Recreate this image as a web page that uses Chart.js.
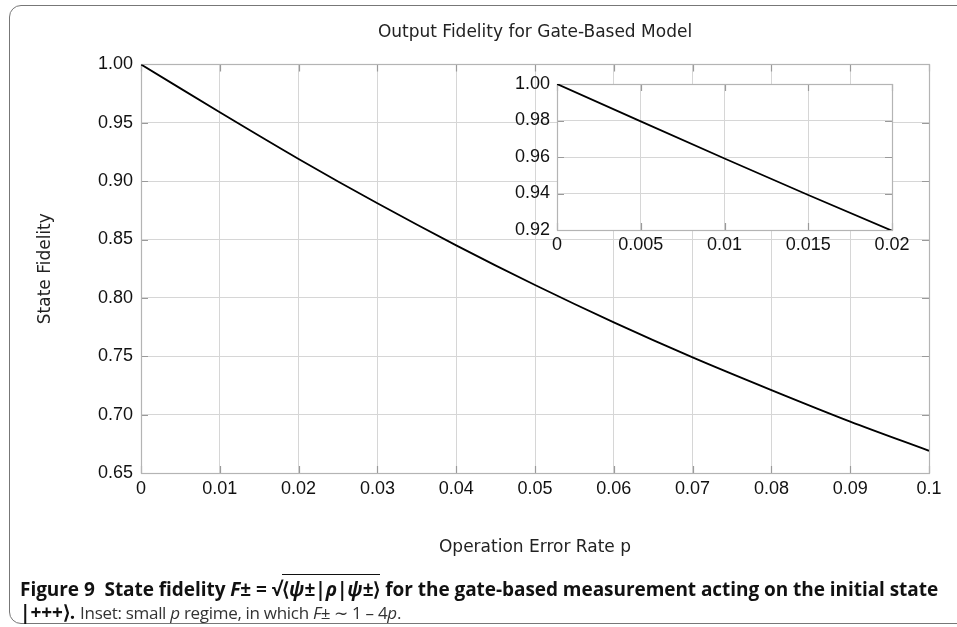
<!DOCTYPE html>
<html><head><meta charset="utf-8">
<script src="https://cdn.jsdelivr.net/npm/chart.js@4.4.1/dist/chart.umd.min.js"></script>
<style>
html,body{margin:0;padding:0;background:#fff;}
body{width:957px;height:627px;position:relative;overflow:hidden;}
#frame{position:absolute;left:9px;top:5px;width:990px;height:619px;border:1.5px solid #777;border-radius:12px;box-sizing:border-box;}
#main{position:absolute;left:0;top:0;}
#inset{position:absolute;left:480px;top:66px;}
#caption{position:absolute;left:20px;top:578px;font-family:"Open Sans",Lato,sans-serif;font-size:19px;line-height:23px;color:#111;white-space:nowrap;letter-spacing:-0.05px;}
#caption b{font-weight:700;}
#caption .reg{font-weight:normal;color:#333;font-size:17px;letter-spacing:-0.3px;}
#caption .ov{border-top:1.5px solid #111;padding-top:1px;}
</style></head>
<body>
<div id="frame"></div>
<canvas id="main" width="957" height="627"></canvas>
<canvas id="inset" width="440" height="200"></canvas>
<div id="caption"><b>Figure 9&nbsp; State fidelity <i>F</i>± = √<span class="ov">⟨<i>ψ</i>±|<i>ρ</i>|<i>ψ</i>±⟩</span> for the gate-based measurement acting on the initial state</b><br><b>|+++⟩.</b> <span class="reg">Inset: small <i>p</i> regime, in which <i>F</i>± ∼ 1 – 4<i>p</i>.</span></div>
<script>
// ---- data ----
const pValues = [0, 0.01, 0.02, 0.03, 0.04, 0.05, 0.06, 0.07, 0.08, 0.09, 0.10];
const fidelity = [1.000, 0.959, 0.919, 0.881, 0.845, 0.811, 0.779, 0.749, 0.721, 0.694, 0.669];
const xTickLabels = ['0','0.01','0.02','0.03','0.04','0.05','0.06','0.07','0.08','0.09','0.1'];
const yTickLabels = ['0.65','0.70','0.75','0.80','0.85','0.90','0.95','1.00'];

const insetP = [0, 0.005, 0.010, 0.015, 0.020];
const insetF = [1.000, 0.9795, 0.9592, 0.9392, 0.9196];
const insetXTickLabels = ['0','0.005','0.01','0.015','0.02'];
const insetYTickLabels = ['0.92','0.94','0.96','0.98','1.00'];

const TICK_FONT = {family:'"Liberation Sans", Arial, sans-serif', size:18};
const TITLE_FONT = {family:'"DejaVu Sans", sans-serif', size:17, weight:'normal', lineHeight:1.2};
const GRID = '#d6d6d6';

const frameTicks = {
  id:'frameTicks',
  beforeDraw(chart, args, opts){
    if(!opts.fill) return;
    const a = chart.chartArea, c = chart.ctx;
    c.save(); c.fillStyle = '#fff'; c.fillRect(a.left, a.top, a.right-a.left, a.bottom-a.top); c.restore();
  },
  beforeDatasetsDraw(chart){
    const a = chart.chartArea, c = chart.ctx, xs = chart.scales.x, ys = chart.scales.y, L = 7;
    c.save();
    c.strokeStyle = '#9a9a9a'; c.lineWidth = 1.2;
    c.beginPath();
    xs.ticks.forEach(t => { const x = Math.round(xs.getPixelForValue(t.value))+0.5;
      c.moveTo(x, a.bottom); c.lineTo(x, a.bottom-L); c.moveTo(x, a.top); c.lineTo(x, a.top+L); });
    ys.ticks.forEach(t => { const y = Math.round(ys.getPixelForValue(t.value))+0.5;
      c.moveTo(a.left, y); c.lineTo(a.left+L, y); c.moveTo(a.right, y); c.lineTo(a.right-L, y); });
    c.stroke();
    c.strokeStyle = '#b4b4b4'; c.lineWidth = 1.2;
    c.strokeRect(Math.round(a.left)+0.5, Math.round(a.top)+0.5, Math.round(a.right-a.left), Math.round(a.bottom-a.top));
    c.restore();
  }
};

function pts(xs, ys){ return xs.map((x,i)=>({x, y: ys[i]})); }

new Chart(document.getElementById('main'), {
  type:'line',
  data:{datasets:[{data:pts(pValues, fidelity), borderColor:'#000', borderWidth:1.8, pointRadius:0, tension:0.3, fill:false}]},
  plugins:[frameTicks],
  options:{
    responsive:false, animation:false, events:[],
    layout:{padding:{left:0, right:28, top:0, bottom:57}},
    plugins:{
      legend:{display:false}, tooltip:{enabled:false},
      title:{display:true, fullSize:false, text:'Output Fidelity for Gate-Based Model', color:'#222',
        font:TITLE_FONT, padding:{top:22, bottom:22}},
      frameTicks:{fill:false}
    },
    scales:{
      x:{type:'linear', min:0, max:0.1,
        afterFit(s){ s.height = 97; },
        ticks:{stepSize:0.01, color:'#111', font:TICK_FONT, padding:5, maxRotation:0, autoSkip:false,
          callback:(v,i)=>xTickLabels[i]},
        grid:{color:GRID, lineWidth:1, drawTicks:false, tickLength:0},
        border:{display:false},
        title:{display:true, text:'Operation Error Rate p', color:'#222',
          font:TITLE_FONT, padding:{top:0, bottom:12}}
      },
      y:{type:'linear', min:0.65, max:1.0,
        afterFit(s){ s.width = 141; },
        ticks:{stepSize:0.05, color:'#111', font:TICK_FONT, padding:8, autoSkip:false,
          callback:(v,i)=>yTickLabels[i]},
        grid:{color:GRID, lineWidth:1, drawTicks:false, tickLength:0},
        border:{display:false},
        title:{display:true, text:'State Fidelity', color:'#222',
          font:TITLE_FONT, padding:{top:35, bottom:0}}
      }
    }
  }
});

new Chart(document.getElementById('inset'), {
  type:'line',
  data:{datasets:[{data:pts(insetP, insetF), borderColor:'#000', borderWidth:1.8, pointRadius:0, tension:0, fill:false}]},
  plugins:[frameTicks],
  options:{
    responsive:false, animation:false, events:[],
    layout:{padding:{left:0, right:28, top:18, bottom:0}},
    plugins:{legend:{display:false}, tooltip:{enabled:false}, title:{display:false}, frameTicks:{fill:true}},
    scales:{
      x:{type:'linear', min:0, max:0.02,
        afterFit(s){ s.height = 36; },
        ticks:{stepSize:0.005, color:'#111', font:TICK_FONT, padding:4, maxRotation:0, autoSkip:false,
          callback:(v,i)=>insetXTickLabels[i]},
        grid:{color:GRID, lineWidth:1, drawTicks:false, tickLength:0},
        border:{display:false}
      },
      y:{type:'linear', min:0.92, max:1.0,
        afterFit(s){ s.width = 77; },
        ticks:{stepSize:0.02, color:'#111', font:TICK_FONT, padding:7, autoSkip:false,
          callback:(v,i)=>insetYTickLabels[i]},
        grid:{color:GRID, lineWidth:1, drawTicks:false, tickLength:0},
        border:{display:false}
      }
    }
  }
});
</script>
</body></html>
